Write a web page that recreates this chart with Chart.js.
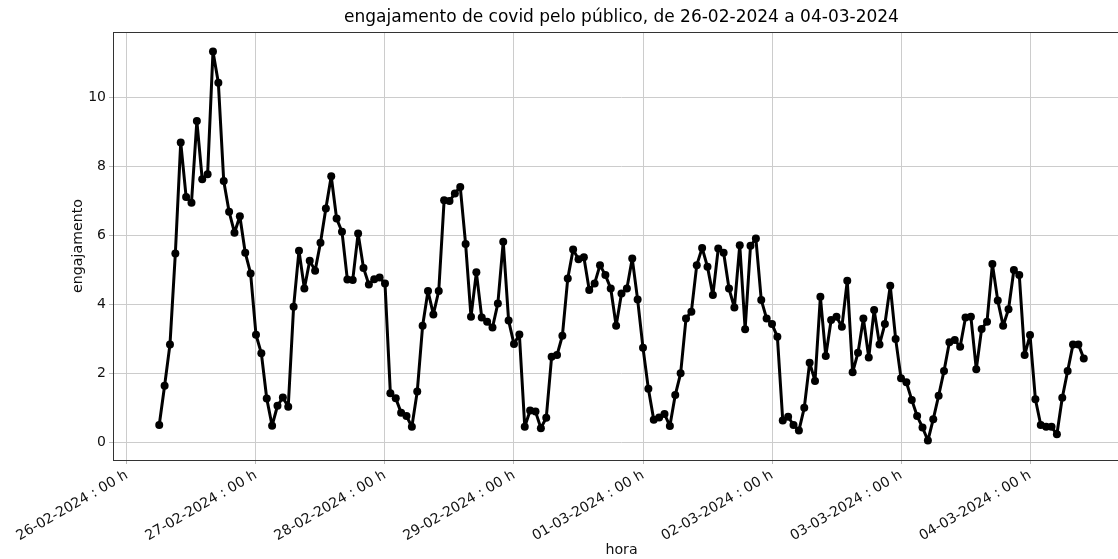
<!DOCTYPE html>
<html lang="pt">
<head>
<meta charset="utf-8">
<title>engajamento de covid</title>
<script src="https://cdn.jsdelivr.net/npm/chart.js@4.4.1/dist/chart.umd.min.js"></script>
<style>
  html, body { margin: 0; padding: 0; background: #fff; overflow: hidden; }
  #caixa { width: 1140px; height: 559px; }
</style>
</head>
<body>
<div id="caixa"><canvas id="grafico" width="1140" height="559"></canvas></div>
<script>
// Engajamento por hora, um array por dia (o dia 26-02 começa às 06 h)
const dia26 = [0.50, 1.64, 2.84, 5.48, 8.70, 7.12, 6.95, 9.32, 7.63, 7.78, 11.34, 10.43, 7.58, 6.69, 6.08, 6.56, 5.50, 4.90];
const dia27 = [3.12, 2.58, 1.27, 0.48, 1.06, 1.30, 1.03, 3.93, 5.56, 4.46, 5.27, 4.98, 5.79, 6.78, 7.72, 6.49, 6.11, 4.72, 4.71, 6.06, 5.06, 4.58, 4.73, 4.78];
const dia28 = [4.61, 1.42, 1.28, 0.86, 0.76, 0.45, 1.47, 3.38, 4.39, 3.71, 4.39, 7.02, 7.00, 7.22, 7.41, 5.75, 3.64, 4.93, 3.62, 3.50, 3.33, 4.03, 5.82, 3.53];
const dia29 = [2.85, 3.13, 0.45, 0.92, 0.89, 0.41, 0.71, 2.48, 2.53, 3.09, 4.75, 5.59, 5.31, 5.37, 4.42, 4.61, 5.14, 4.85, 4.46, 3.38, 4.32, 4.46, 5.33, 4.14];
const dia01 = [2.74, 1.55, 0.65, 0.72, 0.82, 0.47, 1.37, 2.00, 3.59, 3.79, 5.14, 5.64, 5.09, 4.27, 5.62, 5.50, 4.46, 3.91, 5.72, 3.28, 5.70, 5.91, 4.13, 3.59];
const dia02 = [3.43, 3.06, 0.63, 0.74, 0.50, 0.34, 1.00, 2.31, 1.78, 4.22, 2.50, 3.55, 3.64, 3.35, 4.69, 2.03, 2.60, 3.59, 2.46, 3.84, 2.84, 3.43, 4.54, 3.00];
const dia03 = [1.86, 1.74, 1.23, 0.76, 0.43, 0.05, 0.67, 1.35, 2.07, 2.90, 2.97, 2.77, 3.62, 3.64, 2.12, 3.29, 3.50, 5.17, 4.11, 3.38, 3.86, 5.00, 4.85, 2.53];
const dia04 = [3.11, 1.25, 0.50, 0.45, 0.45, 0.23, 1.29, 2.07, 2.84, 2.84, 2.43];

const horaInicial = 6;
const rotulosDias = ["26-02-2024 : 00 h", "27-02-2024 : 00 h", "28-02-2024 : 00 h", "29-02-2024 : 00 h",
  "01-03-2024 : 00 h", "02-03-2024 : 00 h", "03-03-2024 : 00 h", "04-03-2024 : 00 h"];
const ticksY = [0, 2, 4, 6, 8, 10];

// junta os dias e converte para horas desde 26-02 00 h
const engajamento = [].concat(dia26, dia27, dia28, dia29, dia01, dia02, dia03, dia04);
const pontos = engajamento.map((v, i) => ({ x: horaInicial + i, y: v }));
const ticksX = rotulosDias.map((_, i) => i * 24);

// margens de 5% como no matplotlib
const xIni = horaInicial, xFim = horaInicial + engajamento.length - 1;
const yMin = Math.min(...engajamento), yMax = Math.max(...engajamento);
const mx = (xFim - xIni) * 0.05, my = (yMax - yMin) * 0.05;

const fonte = "'DejaVu Sans', sans-serif";
const corGrade = "#cccccc";

// desenha a moldura em volta da área do gráfico
const moldura = {
  id: "moldura",
  afterDraw(chart) {
    const { ctx, chartArea: a } = chart;
    ctx.save();
    ctx.strokeStyle = "#333";
    ctx.lineWidth = 1;
    ctx.strokeRect(Math.round(a.left) + 0.5, Math.round(a.top) + 0.5,
      Math.round(a.right - a.left), Math.round(a.bottom - a.top));
    ctx.restore();
  },
};

new Chart(document.getElementById("grafico"), {
  type: "line",
  data: {
    datasets: [{
      data: pontos,
      borderColor: "#000",
      borderWidth: 3,
      borderJoinStyle: "round",
      borderCapStyle: "round",
      pointRadius: 4,
      pointBackgroundColor: "#000",
      pointBorderWidth: 0,
      tension: 0,
    }],
  },
  options: {
    responsive: false,
    animation: false,
    devicePixelRatio: 1,
    layout: { padding: { left: 0, right: 10, top: 0, bottom: 0 } },
    plugins: {
      legend: { display: false },
      tooltip: { enabled: false },
      title: {
        display: true,
        text: "engajamento de covid pelo público, de 26-02-2024 a 04-03-2024",
        fullSize: false,
        color: "#000",
        font: { family: fonte, size: 17, weight: "normal" },
        padding: { top: 7.6, bottom: 4 },
      },
    },
    scales: {
      x: {
        type: "linear",
        min: xIni - mx,
        max: xFim + mx,
        afterBuildTicks: (s) => { s.ticks = ticksX.map((v) => ({ value: v })); },
        afterFit: (s) => { s.height = 99; },
        ticks: {
          callback: (v) => rotulosDias[ticksX.indexOf(v)],
          maxRotation: 30,
          minRotation: 30,
          autoSkip: false,
          padding: 3,
          color: "#111",
          font: { family: fonte, size: 14 },
        },
        grid: { color: corGrade, lineWidth: 1, tickLength: 4, tickColor: "#bbbbbb" },
        border: { display: false },
        title: {
          display: true,
          text: "hora",
          color: "#111",
          font: { family: fonte, size: 14.2 },
          padding: { top: 0, bottom: 0 },
        },
      },
      y: {
        min: yMin - my,
        max: yMax + my,
        afterBuildTicks: (s) => { s.ticks = ticksY.map((v) => ({ value: v })); },
        afterFit: (s) => { s.width = 113; },
        ticks: {
          padding: 3,
          color: "#111",
          font: { family: fonte, size: 14 },
        },
        grid: { color: corGrade, lineWidth: 1, tickLength: 4, tickColor: "#bbbbbb" },
        border: { display: false },
        title: {
          display: true,
          text: "engajamento",
          color: "#111",
          font: { family: fonte, size: 14.2 },
          padding: { top: 70, bottom: 0 },
        },
      },
    },
  },
  plugins: [moldura],
});
</script>
</body>
</html>
